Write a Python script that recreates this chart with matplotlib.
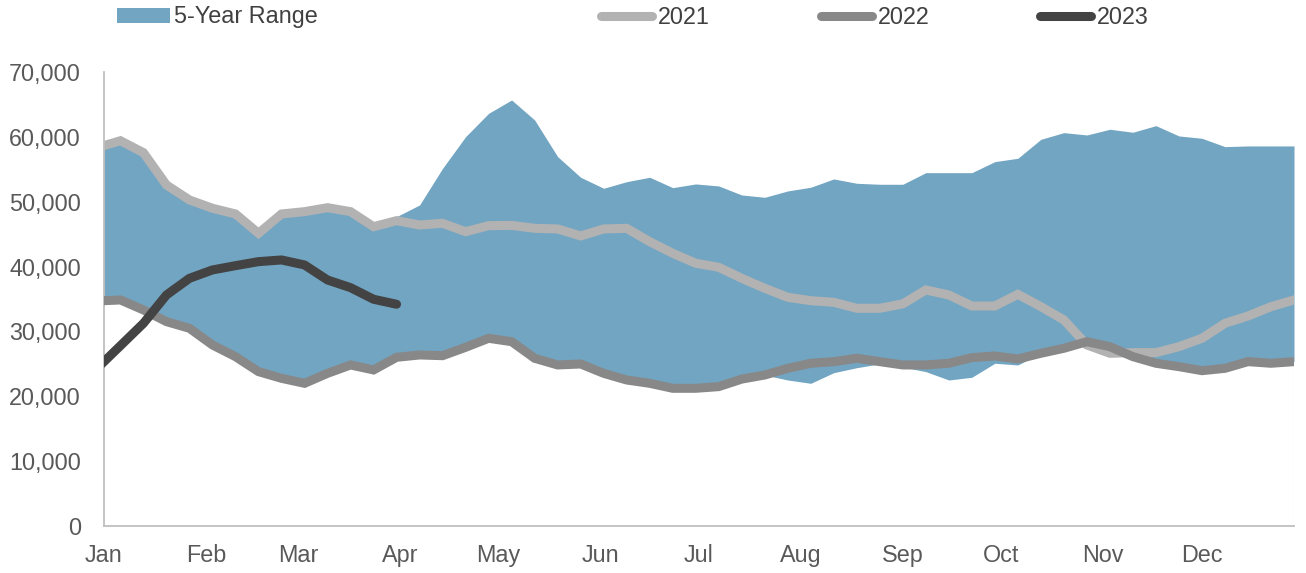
import matplotlib
matplotlib.use("Agg")
import matplotlib.pyplot as plt
from matplotlib.lines import Line2D
from matplotlib.patches import Patch
import pandas as pd

# Weekly observations (Fridays), plotted on a common calendar year
week_start = "2022-12-30"
n_weeks = 53

range_max = [58350, 59400, 57560, 52580, 50270, 48990, 48110, 45130, 48110, 48470,
             49080, 48470, 46150, 47700, 49500, 55150, 60030, 63630, 65690, 62600,
             56950, 53770, 52070, 53090, 53770, 52170, 52740, 52430, 51040, 50680,
             51660, 52230, 53510, 52840, 52690, 52690, 54480, 54480, 54480, 56180,
             56700, 59620, 60650, 60290, 61170, 60710, 61730, 60140, 59780, 58490,
             58600, 58600, 58600]

range_min = [34700, 34850, 33310, 31510, 30480, 27910, 26110, 23800, 22770, 22000,
             23540, 24830, 24060, 26010, 26370, 26260, 27550, 28940, 28420, 25860,
             24830, 24980, 23540, 22510, 22000, 21230, 21230, 21490, 22650, 23280,
             22510, 22000, 23640, 24410, 25000, 24500, 23800, 22510, 22930, 25090,
             24830, 26630, 27400, 27910, 26630, 26110, 25090, 24570, 23950, 24310,
             25340, 25090, 25340]

y2021 = [58350, 59400, 57560, 52580, 50270, 48990, 48110, 45130, 48110, 48470,
         49080, 48470, 46150, 47080, 46410, 46670, 45380, 46310, 46350, 45900,
         45800, 44720, 45800, 45900, 43840, 42050, 40510, 39890, 38190, 36650,
         35260, 34740, 34490, 33570, 33570, 34250, 36390, 35620, 33920, 33920,
         35720, 33820, 31770, 27910, 26630, 26730, 26730, 27650, 28940, 31250,
         32380, 33820, 34850]

y2022 = [34700, 34850, 33310, 31510, 30480, 27910, 26110, 23800, 22770, 22000,
         23540, 24830, 24060, 26010, 26370, 26260, 27550, 28940, 28420, 25860,
         24830, 24980, 23540, 22510, 22000, 21230, 21230, 21490, 22650, 23280,
         24310, 25090, 25340, 25860, 25340, 24830, 24830, 25090, 25960, 26210,
         25750, 26630, 27400, 28420, 27650, 26110, 25090, 24570, 23950, 24310,
         25340, 25090, 25340]

y2023 = [24360, 27800, 31250, 35620, 38190, 39480, 40140, 40760, 41020, 40250,
         37930, 36750, 34960, 34190]

month_labels = ["Jan", "Feb", "Mar", "Apr", "May", "Jun",
                "Jul", "Aug", "Sep", "Oct", "Nov", "Dec"]
y_ticks = [0, 10000, 20000, 30000, 40000, 50000, 60000, 70000]

c_range = "#72A5C2"
c_2021 = "#B2B2B2"
c_2022 = "#888888"
c_2023 = "#434343"
c_text = "#595959"
c_legend_text = "#404040"

plt.rcParams["font.family"] = ["Liberation Sans", "DejaVu Sans"]
FS = 16.8
LW = 6.5

dates = pd.date_range(week_start, periods=n_weeks, freq="7D")
month_starts = pd.date_range("2023-01-01", periods=12, freq="MS")

fig = plt.figure(figsize=(13.06, 5.73), dpi=100)
ax = fig.add_axes([104 / 1306, 1 - 526 / 573, 1190 / 1306, 454 / 573])

ax.fill_between(dates, range_min, range_max, color=c_range, lw=0, zorder=1)
ax.vlines(dates[-1], 0, range_min[-1], color="#E3E8EE", lw=0.8, zorder=0.5)

ax.plot(dates, y2021, color=c_2021, lw=LW, solid_joinstyle="miter", zorder=2)
ax.plot(dates, y2022, color=c_2022, lw=LW, solid_joinstyle="miter", zorder=3)
ax.plot(dates[:len(y2023)], y2023, color=c_2023, lw=LW,
        solid_capstyle="round", solid_joinstyle="round", zorder=4)

ax.set_xlim(pd.Timestamp("2023-01-01"), dates[-1])
ax.set_ylim(0, 70000)

ax.set_xticks(month_starts)
ax.set_xticklabels(month_labels)
ax.set_yticks(y_ticks)
ax.set_yticklabels([f"{v:,.0f}" for v in y_ticks])
ax.tick_params(axis="x", length=0, pad=13, labelsize=FS, labelcolor=c_text)
ax.tick_params(axis="y", length=0, pad=16.5, labelsize=FS, labelcolor=c_text)

for side in ("top", "right"):
    ax.spines[side].set_visible(False)
for side in ("left", "bottom"):
    ax.spines[side].set_color("#BFBFBF")
    ax.spines[side].set_linewidth(1.3)

# Legend entries laid out across the top
legend_items = [
    (Patch(facecolor=c_range, edgecolor="none"), "5-Year Range", 117, 2.25, 0.2),
    (Line2D([], [], color=c_2021, lw=LW, solid_capstyle="round"), "2021", 601, 2.2, 0.25),
    (Line2D([], [], color=c_2022, lw=LW, solid_capstyle="round"), "2022", 821, 2.2, 0.25),
    (Line2D([], [], color=c_2023, lw=LW, solid_capstyle="round"), "2023", 1040, 2.2, 0.25),
]
for handle, label, x_px, hl, tp in legend_items:
    leg = fig.legend([handle], [label], loc="center left",
                     bbox_to_anchor=(x_px / 1306, 1 - 17 / 573),
                     frameon=False, fontsize=FS, borderpad=0, borderaxespad=0,
                     handlelength=hl, handleheight=0.58, handletextpad=tp)
    for t in leg.get_texts():
        t.set_color(c_legend_text)

fig.savefig("out.png", dpi=100)
